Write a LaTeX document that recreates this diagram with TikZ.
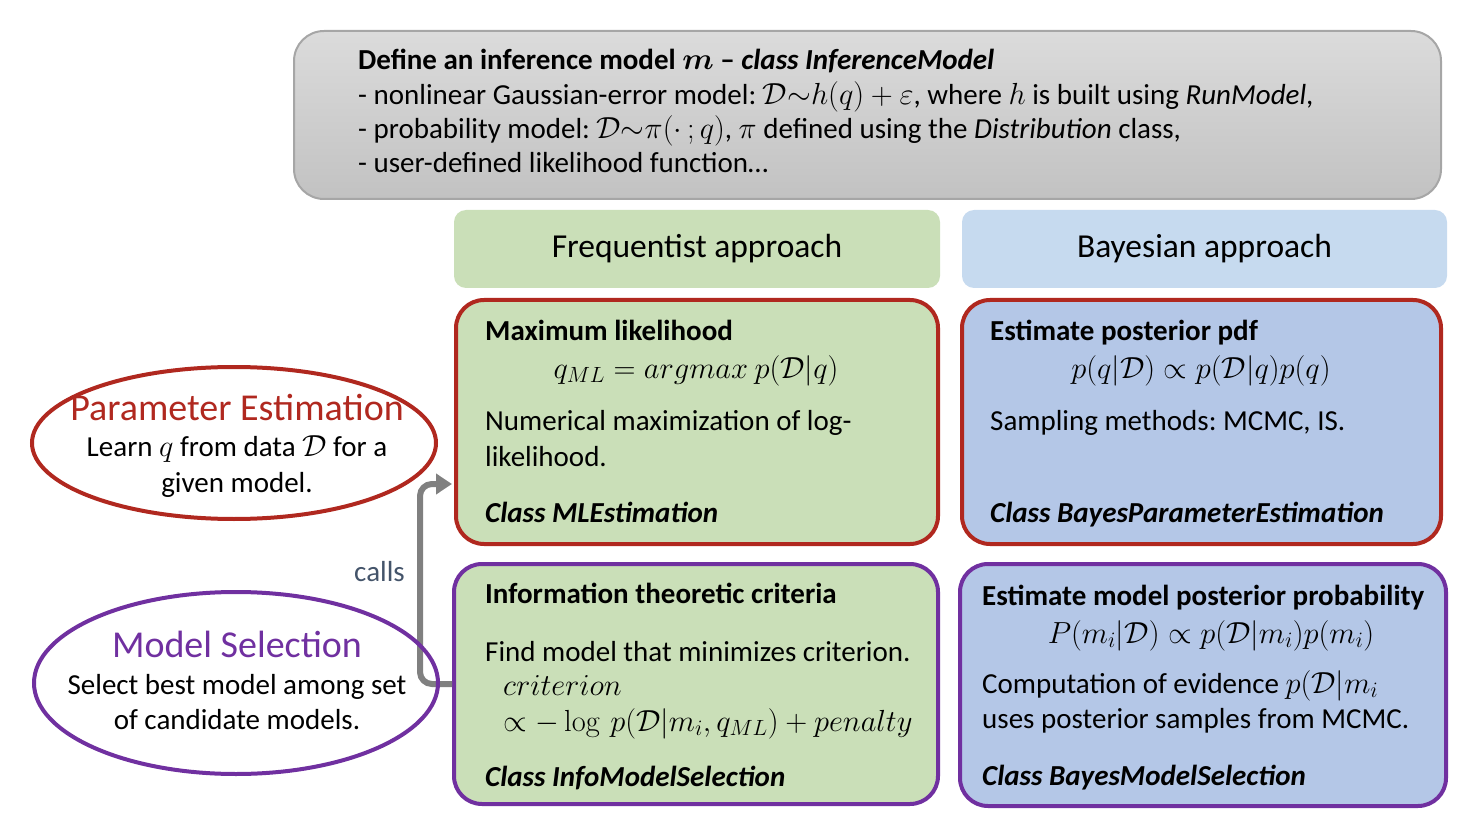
\RequirePackage{fix-cm}
\documentclass[tikz,border=0pt]{standalone}
\usepackage{amsmath}
\usepackage[no-math]{fontspec}
\setmainfont{Carlito}
\usetikzlibrary{shapes.geometric, arrows.meta}
\DeclareMathSizes{29}{30.5}{22}{17}
\frenchspacing

\definecolor{mlgreen}{HTML}{CADFB8}
\definecolor{bayesblue}{HTML}{B4C7E7}
\definecolor{headblue}{HTML}{C6DAEF}
\definecolor{estred}{HTML}{B0281F}
\definecolor{selpurple}{HTML}{7030A0}
\definecolor{callgray}{HTML}{808080}
\definecolor{callslate}{HTML}{44546A}

\begin{document}
\begin{tikzpicture}[x=1pt, y=-1pt,
    panel/.style={rectangle, rounded corners=28pt, line width=4pt, minimum height=244pt},
    head/.style={rectangle, rounded corners=12pt, minimum height=78pt, font=\fontsize{33.5}{40}\selectfont},
    oval/.style={ellipse, line width=4pt, minimum width=404pt},
    txt/.style={anchor=base west, inner sep=0pt, font=\fontsize{29}{34}\selectfont},
    mid/.style={anchor=base, inner sep=0pt, font=\fontsize{29}{34}\selectfont}]
    \useasboundingbox (0,0) rectangle (1462,834);

    %boxes
    \node[rectangle, rounded corners=30pt, draw=gray!70, line width=2pt, top color=gray!28, bottom color=gray!48, minimum width=1147pt, minimum height=168pt] (define) at (867.5,115) {};
    \node[head, fill=mlgreen, minimum width=486pt] (freqhead) at (697,249) {Frequentist approach};
    \node[head, fill=headblue, minimum width=485pt] (bayeshead) at (1204.5,249) {Bayesian approach};
    \node[panel, draw=estred, fill=mlgreen, minimum width=482pt] (ml) at (697,422) {};
    \node[panel, draw=estred, fill=bayesblue, minimum width=479pt] (bayesparam) at (1201.5,422) {};
    \node[panel, draw=selpurple, fill=mlgreen, minimum width=484pt, minimum height=240pt] (infobox) at (696,684) {};
    \node[panel, draw=selpurple, fill=bayesblue, minimum width=486pt, minimum height=242pt] (bayesmodel) at (1203,685) {};

    %texts
    \node[txt] (def1) at (358,70) {\textbf{Define an inference model $\boldsymbol{m}$ -- \textit{class InferenceModel}}};
    \node[txt] (def2) at (358,105) {- nonlinear Gaussian-error model: $\mathcal{D}{\sim}h(q)+\varepsilon$, where $h$ is built using \textit{RunModel},};
    \node[txt] (def3) at (358,139) {- probability model: $\mathcal{D}{\sim}\pi(\cdot\,;q)$, $\pi$ defined using the \textit{Distribution} class,};
    \node[txt] (def4) at (358,173) {- user-defined likelihood function…};

    \node[txt] (mltitle) at (485,341) {\textbf{Maximum likelihood}};
    \node[mid] (mleq) at (696,378) {$q_{ML} = argmax\ p(\mathcal{D}|q)$};
    \node[txt] (mltext) at (485,430) {Numerical maximization of log-};
    \node[txt] (mltext2) at (485,466) {likelihood.};
    \node[txt] (mlclass) at (485,522) {\textbf{\textit{Class MLEstimation}}};

    \node[txt] (bptitle) at (990,341) {\textbf{Estimate posterior pdf}};
    \node[mid] (bpeq) at (1201,378) {$p(q|\mathcal{D}) \propto p(\mathcal{D}|q)p(q)$};
    \node[txt] (bptext) at (990,430) {Sampling methods: MCMC, IS.};
    \node[txt] (bpclass) at (990,522) {\textbf{\textit{Class BayesParameterEstimation}}};

    \node[txt] (infotitle) at (485,603) {\textbf{Information theoretic criteria}};
    \node[txt] (infotext) at (485,661) {Find model that minimizes criterion.};
    \node[txt] (infoeq) at (503,695) {$criterion$};
    \node[txt] (infoeq2) at (503,731) {$\propto -\log\, p(\mathcal{D}|m_i, q_{ML}) + penalty$};
    \node[txt] (infoclass) at (485,786) {\textbf{\textit{Class InfoModelSelection}}};

    \node[txt] (bmtitle) at (982,605) {\textbf{Estimate model posterior probability}};
    \node[mid] (bmeq) at (1211,643) {$P(m_i|\mathcal{D}) \propto p(\mathcal{D}|m_i)p(m_i)$};
    \node[txt] (bmtext) at (982,693) {Computation of evidence $p(\mathcal{D}|m_i$};
    \node[txt] (bmtext2) at (982,728) {uses posterior samples from MCMC.};
    \node[txt] (bmclass) at (982,785) {\textbf{\textit{Class BayesModelSelection}}};

    %calls arrow
    \coordinate (bend) at (420,560);
    \coordinate (mlin) at (452,484);
    \draw[line width=6pt, callgray, rounded corners=12pt, -{Triangle[length=16pt, width=20pt]}] (infobox.west) -| (bend) |- (mlin);
    \node[anchor=base east, inner sep=0pt, text=callslate, font=\fontsize{29}{34}\selectfont] (calls) at (405,581) {calls};

    %ellipses
    \node[oval, draw=estred, minimum height=152pt] (param) at (234,443) {};
    \node[oval, draw=selpurple, minimum height=182pt] (modelsel) at (236,683) {};
    \node[mid, text=estred, font=\fontsize{38}{44}\selectfont] (paramtitle) at (237,420) {Parameter Estimation};
    \node[mid] (paramtext) at (237,456) {Learn $q$ from data $\mathcal{D}$ for a};
    \node[mid] (paramtext2) at (237,492) {given model.};
    \node[mid, text=selpurple, font=\fontsize{38}{44}\selectfont] (seltitle) at (237,657) {Model Selection};
    \node[mid] (seltext) at (237,694) {Select best model among set};
    \node[mid] (seltext2) at (237,729) {of candidate models.};
\end{tikzpicture}
\end{document}
